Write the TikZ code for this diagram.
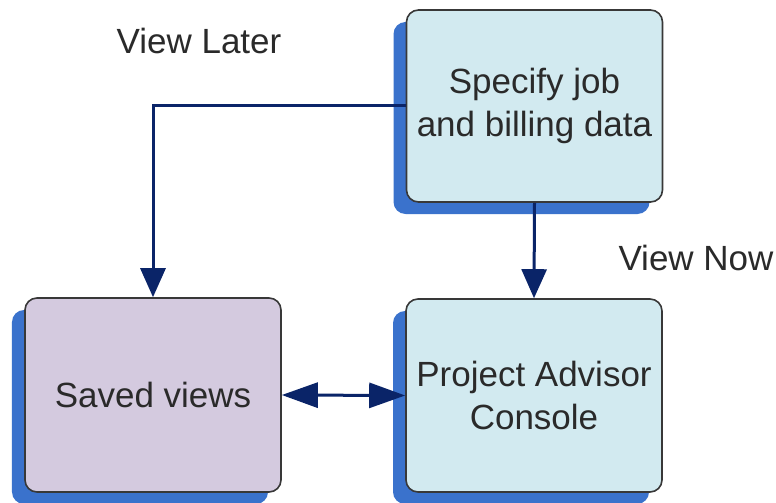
\documentclass[tikz,border=0pt]{standalone}
\usepackage{fontspec}
\setmainfont{Liberation Sans}
\usetikzlibrary{shadows,arrows.meta}
\definecolor{boxcyan}{HTML}{D2EAF0}
\definecolor{boxpurple}{HTML}{D4CADF}
\definecolor{shadowblue}{HTML}{3A72CC}
\definecolor{arrownavy}{HTML}{0A2468}
\definecolor{borderdark}{HTML}{383838}
\definecolor{textdark}{HTML}{2A2A2A}
\tikzset{
  procbox/.style={draw=borderdark, line width=1.6bp, rounded corners=12bp,
    minimum width=256bp, minimum height=193bp, align=center,
    font=\fontsize{35bp}{43bp}\selectfont, text=textdark,
    drop shadow={shadow xshift=-13bp, shadow yshift=-12bp, fill=shadowblue, opacity=1}},
  lbl/.style={font=\fontsize{35bp}{43bp}\selectfont, text=textdark, inner sep=0pt},
  arr/.style={draw=arrownavy, line width=3bp, -{Triangle[length=29bp,width=25bp]}},
  darr/.style={draw=arrownavy, line width=3bp, {Triangle[length=36bp,width=25bp]}-{Triangle[length=36bp,width=25bp]}}
}
\begin{document}
\begin{tikzpicture}[x=1bp,y=-1bp]
\useasboundingbox[fill=white] (0,0) rectangle (776,503);
\node[procbox, fill=boxcyan, minimum height=192bp] (spec) at (534.5,106) {Specify job\\and billing data};
\node[procbox, fill=boxpurple, minimum height=194bp] (saved) at (153,395) {Saved views};
\node[procbox, fill=boxcyan] (proj) at (534,395.5) {Project Advisor\\Console};
\node[lbl] (later) at (199,41) {View Later};
\node[lbl] (now) at (696,258) {View Now};
\draw[arr] (spec.west) -| (saved.north);
\draw[arr] (spec.south) -- (proj.north);
\draw[darr] (saved.east) -- (proj.west);
\end{tikzpicture}
\end{document}
